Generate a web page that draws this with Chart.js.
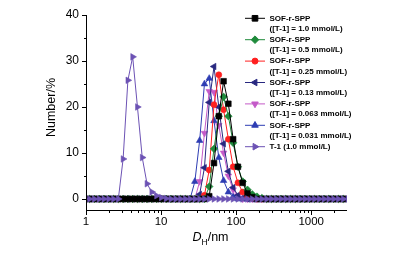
<!DOCTYPE html>
<html lang="en">
<head>
<meta charset="UTF-8">
<title>DLS size distribution</title>
<style>
  * { margin: 0; padding: 0; }
  body { background: #fff; }
  .chartBox { width: 407px; height: 254px; position: relative; }
</style>
</head>
<body>
<div class="chartBox"><canvas id="myChart"></canvas></div>
<script src="https://cdn.jsdelivr.net/npm/chart.js@4.4.0/dist/chart.umd.min.js"></script>
<script>
// size bins (nm)
const sizes = [0.9649, 1.117, 1.294, 1.499, 1.736, 2.010, 2.328, 2.696, 3.122, 3.615,
  4.187, 4.849, 5.615, 6.503, 7.531, 8.721, 10.10, 11.70, 13.54, 15.69,
  18.17, 21.04, 24.36, 28.21, 32.67, 37.84, 43.82, 50.75, 58.77, 68.06,
  78.82, 91.28, 105.7, 122.4, 141.8, 164.2, 190.1, 220.2, 255.0, 295.3,
  342.0, 396.1, 458.7, 531.2, 615.1, 712.4, 825.0, 955.4, 1106, 1281,
  1484, 1718, 1990, 2305, 2669, 3091];

// number % for each sample
const sof10 = [0, 0, 0, 0, 0, 0, 0, 0, 0, 0,
  0, 0, 0, 0, 0, 0, 0, 0, 0, 0,
  0, 0, 0, 0, 0, 0, 0.6, 7.8, 18, 25.6,
  20.7, 13, 7, 3.5, 1.2, 0.4, 0, 0, 0, 0,
  0, 0, 0, 0, 0, 0, 0, 0, 0, 0,
  0, 0, 0, 0, 0, 0];
const sof05 = [0, 0, 0, 0, 0, 0, 0, 0, 0, 0,
  0, 0, 0, 0, 0, 0, 0, 0, 0, 0,
  0, 0, 0, 0, 0, 0, 2.7, 10.9, 18, 22.2,
  18, 12.2, 7, 3.8, 2, 1, 0.5, 0.2, 0, 0,
  0, 0, 0, 0, 0, 0, 0, 0, 0, 0,
  0, 0, 0, 0, 0, 0];
const sof025 = [0, 0, 0, 0, 0, 0, 0, 0, 0, 0,
  0, 0, 0, 0, 0, 0, 0, 0, 0, 0,
  0, 0, 0, 0, 0, 0.8, 6.3, 20.5, 27, 19.4,
  13, 7, 3.5, 1.5, 0.6, 0.2, 0, 0, 0, 0,
  0, 0, 0, 0, 0, 0, 0, 0, 0, 0,
  0, 0, 0, 0, 0, 0];
const sof013 = [0, 0, 0, 0, 0, 0, 0, 0, 0, 0,
  0, 0, 0, 0, 0, 0, 0, 0, 0, 0,
  0, 0, 0, 0, 1, 6.8, 21, 28.8, 20, 12,
  6, 2.5, 0.8, 0.2, 0, 0, 0, 0, 0, 0,
  0, 0, 0, 0, 0, 0, 0, 0, 0, 0,
  0, 0, 0, 0, 0, 0];
const sof0063 = [0, 0, 0, 0, 0, 0, 0, 0, 0, 0,
  0, 0, 0, 0, 0, 0, 0, 0, 0, 0,
  0, 0, 0, 0, 3.8, 14.3, 23.4, 23.2, 16, 10,
  5, 2, 0.7, 0, 0, 0, 0, 0, 0, 0,
  0, 0, 0, 0, 0, 0, 0, 0, 0, 0,
  0, 0, 0, 0, 0, 0];
const sof0031 = [0, 0, 0, 0, 0, 0, 0, 0, 0, 0,
  0, 0, 0, 0, 0, 0, 0, 0, 0, 0,
  0, 0, 0, 3.8, 12.7, 25, 26.2, 17, 9, 4,
  1.5, 0.5, 0, 0, 0, 0, 0, 0, 0, 0,
  0, 0, 0, 0, 0, 0, 0, 0, 0, 0,
  0, 0, 0, 0, 0, 0];
const t1 = [0, 0, 0, 0, 0, 0, 0, 0, 8.7, 25.8,
  30.9, 20.0, 9.0, 3.3, 1.5, 0.7, 0.3, 0.1, 0, 0,
  0, 0, 0, 0, 0, 0, 0, 0, 0, 0,
  0, 0, 0, 0, 0, 0, 0, 0, 0, 0,
  0, 0, 0, 0, 0, 0, 0, 0, 0, 0,
  0, 0, 0, 0, 0, 0];

const xLabels = [1, 10, 100, 1000];
const xMinor = [2, 3, 4, 5, 6, 7, 8, 9, 20, 30, 40, 50, 60, 70, 80, 90,
  200, 300, 400, 500, 600, 700, 800, 900, 2000];
const yLabels = [0, 10, 20, 30, 40];
const yMinor = [5, 15, 25, 35];

const series = [
  { name: ['SOF-r-SPP', '([T-1] = 1.0 mmol/L)'], values: sof10, color: '#000000', style: 'rect', rot: 0, r: 4 },
  { name: ['SOF-r-SPP', '([T-1] = 0.5 mmol/L)'], values: sof05, color: '#1f8a3b', style: 'rectRot', rot: 0, r: 3.8 },
  { name: ['SOF-r-SPP', '([T-1] = 0.25 mmol/L)'], values: sof025, color: '#ff2020', style: 'circle', rot: 0, r: 3 },
  { name: ['SOF-r-SPP', '([T-1] = 0.13 mmol/L)'], values: sof013, color: '#282880', style: 'triangle', rot: -90, r: 3.8 },
  { name: ['SOF-r-SPP', '([T-1] = 0.063 mmol/L)'], values: sof0063, color: '#c45ac8', style: 'triangle', rot: 180, r: 3.8 },
  { name: ['SOF-r-SPP', '([T-1] = 0.031 mmol/L)'], values: sof0031, color: '#2e3db3', style: 'triangle', rot: 0, r: 3.8 },
  { name: ['T-1 (1.0 mmol/L)'], values: t1, color: '#6c52b4', style: 'triangle', rot: 90, r: 3.8 }
];

const FONT = "'Liberation Sans', Arial, Helvetica, sans-serif";

const datasets = series.map((s, i) => ({
  label: s.name.join(' '),
  data: sizes.map((x, k) => ({ x: x, y: s.values[k] })),
  borderColor: s.color,
  backgroundColor: s.color,
  borderWidth: 1,
  pointStyle: s.style,
  pointRotation: s.rot,
  pointRadius: s.r,
  pointBorderWidth: 0.6,
  pointBackgroundColor: s.color,
  order: i == 6 ? -1 : i
}));

// axis lines, tick marks, axis titles and legend
const decor = {
  id: 'decor',
  afterDraw(chart) {
    const { ctx, chartArea: a, scales: { x, y } } = chart;
    ctx.save();
    ctx.strokeStyle = '#000';
    ctx.lineWidth = 1;
    ctx.beginPath();
    ctx.moveTo(a.left + 0.5, a.top);
    ctx.lineTo(a.left + 0.5, a.bottom + 0.5);
    ctx.lineTo(a.right, a.bottom + 0.5);
    const yt = (v, len) => {
      const p = Math.round(y.getPixelForValue(v)) + 0.5;
      ctx.moveTo(a.left, p); ctx.lineTo(a.left - len, p);
    };
    const xt = (v, len) => {
      const p = Math.round(x.getPixelForValue(v)) + 0.5;
      ctx.moveTo(p, a.bottom); ctx.lineTo(p, a.bottom + len);
    };
    yLabels.forEach(v => yt(v, 4));
    yMinor.forEach(v => yt(v, 2));
    xLabels.forEach(v => xt(v, 5));
    xMinor.forEach(v => xt(v, 3));
    ctx.stroke();

    // y title
    ctx.fillStyle = '#000';
    ctx.save();
    ctx.translate(55, 107.5);
    ctx.rotate(-Math.PI / 2);
    ctx.font = '12.5px ' + FONT;
    ctx.textAlign = 'center';
    ctx.textBaseline = 'alphabetic';
    ctx.fillText('Number/%', 0, 0);
    ctx.restore();

    // x title D_H/nm
    let tx = 192.5;
    const base = 240.5;
    ctx.textAlign = 'left';
    ctx.textBaseline = 'alphabetic';
    ctx.font = 'italic 12.5px ' + FONT;
    ctx.fillText('D', tx, base);
    tx += ctx.measureText('D').width;
    ctx.font = '8.5px ' + FONT;
    ctx.fillText('H', tx, base + 4);
    tx += ctx.measureText('H').width;
    ctx.font = '12.5px ' + FONT;
    ctx.fillText('/nm', tx, base);

    // legend
    const lx = 245, ly = 18.3, step = 21.4;
    const draw = Chart.helpers && Chart.helpers.drawPoint;
    series.forEach((s, i) => {
      const cy = ly + step * i;
      ctx.strokeStyle = s.color;
      ctx.fillStyle = s.color;
      ctx.lineWidth = 1;
      ctx.beginPath();
      ctx.moveTo(lx, cy); ctx.lineTo(lx + 20, cy);
      ctx.stroke();
      if (draw) {
        draw(ctx, { pointStyle: s.style, rotation: s.rot, radius: s.r, borderWidth: 0.6 }, lx + 10, cy);
      }
      ctx.fillStyle = '#000';
      ctx.font = 'bold 8px ' + FONT;
      ctx.textBaseline = 'middle';
      ctx.textAlign = 'left';
      s.name.forEach((t, j) => ctx.fillText(t, lx + 24.5, cy + j * 10.2));
    });
    ctx.restore();
  }
};

const config = {
  type: 'line',
  data: { datasets: datasets },
  options: {
    responsive: true,
    maintainAspectRatio: false,
    animation: false,
    events: [],
    layout: { padding: { left: 0, right: 60, top: 15, bottom: 0 } },
    plugins: { legend: { display: false }, tooltip: { enabled: false } },
    scales: {
      x: {
        type: 'logarithmic',
        min: 1,
        max: 3000,
        grid: { display: false, drawTicks: false },
        border: { display: false },
        afterBuildTicks: s => { s.ticks = xLabels.map(v => ({ value: v })); },
        afterFit: s => { s.height = 44; },
        ticks: {
          autoSkip: false,
          maxRotation: 0,
          padding: 5,
          color: '#000',
          font: { family: FONT, size: 11.5 },
          callback: v => String(v)
        }
      },
      y: {
        min: -2.4,
        max: 40,
        grid: { display: false, drawTicks: false },
        border: { display: false },
        afterBuildTicks: s => { s.ticks = yLabels.map(v => ({ value: v })); },
        afterFit: s => { s.width = 86; },
        ticks: {
          padding: 7,
          color: '#000',
          font: { family: FONT, size: 12 }
        }
      }
    }
  },
  plugins: [decor]
};

const myChart = new Chart(document.getElementById('myChart'), config);
</script>
</body>
</html>
